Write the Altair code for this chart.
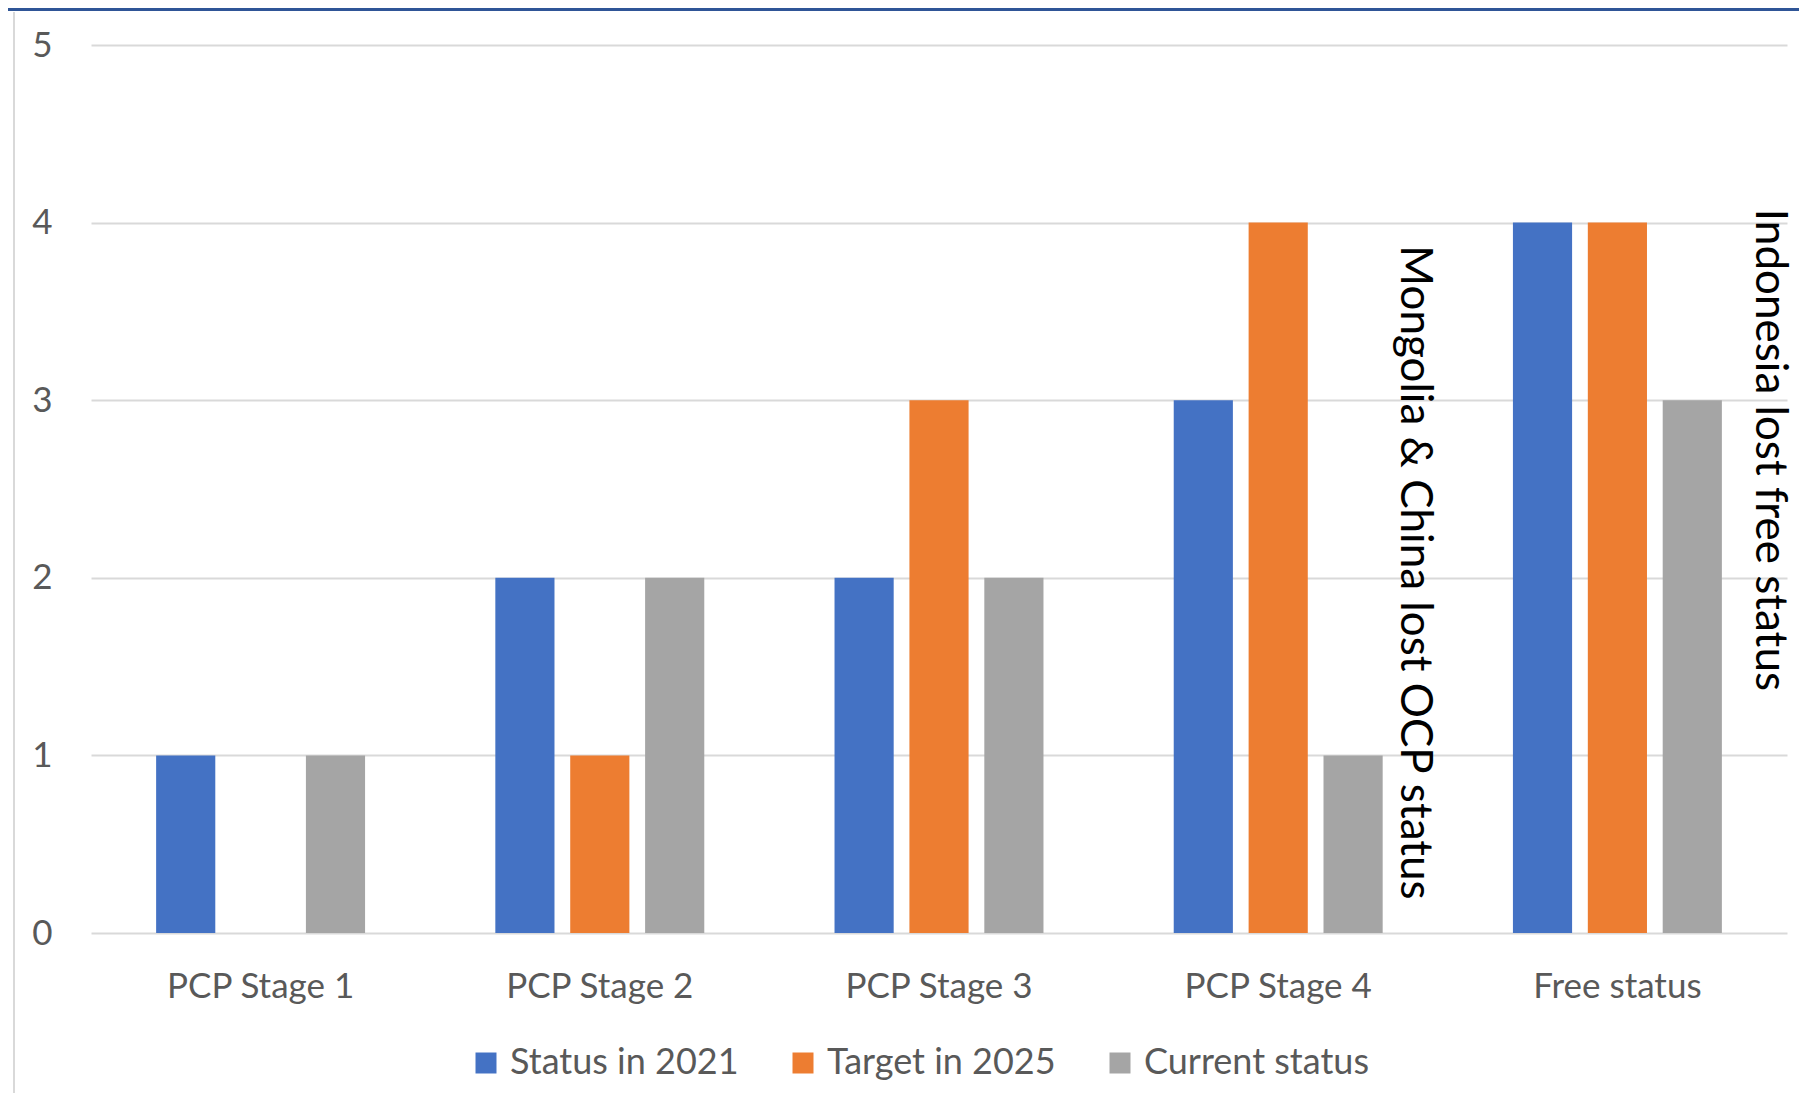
import altair as alt
import pandas as pd

categories = ["PCP Stage 1", "PCP Stage 2", "PCP Stage 3", "PCP Stage 4", "Free status"]
series = ["Status in 2021", "Target in 2025", "Current status"]
status_2021 = [1, 2, 2, 3, 4]
target_2025 = [0, 1, 3, 4, 4]
current_status = [1, 2, 2, 1, 3]
colors = ["#4472C4", "#ED7D31", "#A5A5A5"]

ann_text = ["Mongolia & China lost OCP status", "Indonesia lost free status"]
ann_cat = ["PCP Stage 4", "Free status"]
ann_y = [2.03, 2.72]

rows = []
for s, vals in zip(series, [status_2021, target_2025, current_status]):
    for c, v in zip(categories, vals):
        rows.append({"cat": c, "series": s, "value": v})
df = pd.DataFrame(rows)
ann = pd.DataFrame({"cat": ann_cat, "text": ann_text, "y": ann_y})

FONT = "Lato"
W, H = 1696, 888

xscale = alt.Scale(domain=categories, paddingInner=0.384, paddingOuter=0.192)
yscale = alt.Scale(domain=[0, 5])

bars = alt.Chart(df).mark_bar().encode(
    x=alt.X("cat:N", scale=xscale, sort=categories,
            axis=alt.Axis(title=None, labelAngle=0, ticks=False, domain=False, grid=False,
                          labelFontSize=35, labelColor="#595959", labelPadding=36,
                          labelFont=FONT, labelLimit=0)),
    xOffset=alt.XOffset("series:N", sort=series,
                        scale=alt.Scale(domain=series, paddingInner=0.21, paddingOuter=0)),
    y=alt.Y("value:Q", scale=yscale,
            axis=alt.Axis(title=None, values=[0, 1, 2, 3, 4, 5], format="d",
                          ticks=False, domain=False,
                          labelFontSize=35, labelColor="#595959", labelPadding=39,
                          labelFont=FONT, labelLimit=0,
                          gridColor="#D9D9D9", gridWidth=2)),
    color=alt.Color("series:N", sort=series,
                    scale=alt.Scale(domain=series, range=colors),
                    legend=alt.Legend(title=None, orient="none", direction="horizontal",
                                      legendX=377, legendY=1000,
                                      symbolType="square", symbolSize=441,
                                      symbolStrokeWidth=0, labelFontSize=36,
                                      labelColor="#595959", labelFont=FONT,
                                      labelLimit=0,
                                      labelOffset=6, columnPadding=46, padding=0)),
)

def ann_layer(i, dy):
    return alt.Chart(ann.iloc[[i]]).mark_text(
        angle=90, align="center", baseline="middle", fontSize=44, font=FONT,
        color="#000000", dy=dy
    ).encode(
        x=alt.X("cat:N", scale=xscale, sort=categories),
        y=alt.Y("y:Q", scale=yscale),
        text="text:N",
    )

frame_top = alt.Chart(pd.DataFrame({"a": [0]})).mark_rule(color="#2F5597", strokeWidth=3).encode(
    x=alt.value(-83), x2=alt.value(W + 12), y=alt.value(-35.5)
)
frame_left = alt.Chart(pd.DataFrame({"a": [0]})).mark_rule(color="#D9D9D9", strokeWidth=2).encode(
    x=alt.value(-77), y=alt.value(-33), y2=alt.value(H + 160)
)

chart = alt.layer(bars, ann_layer(0, -136), ann_layer(1, -152), frame_top, frame_left).properties(
    width=W, height=H,
    autosize=alt.AutoSizeParams(type="none"),
    padding={"left": 83, "top": 37, "right": 12, "bottom": 160},
    view=alt.ViewBackground(stroke=None, strokeWidth=0),
).configure_view(strokeWidth=0, stroke=None).configure(background="white")

chart.save("out.html", embed_options={"renderer": "svg", "actions": False})
